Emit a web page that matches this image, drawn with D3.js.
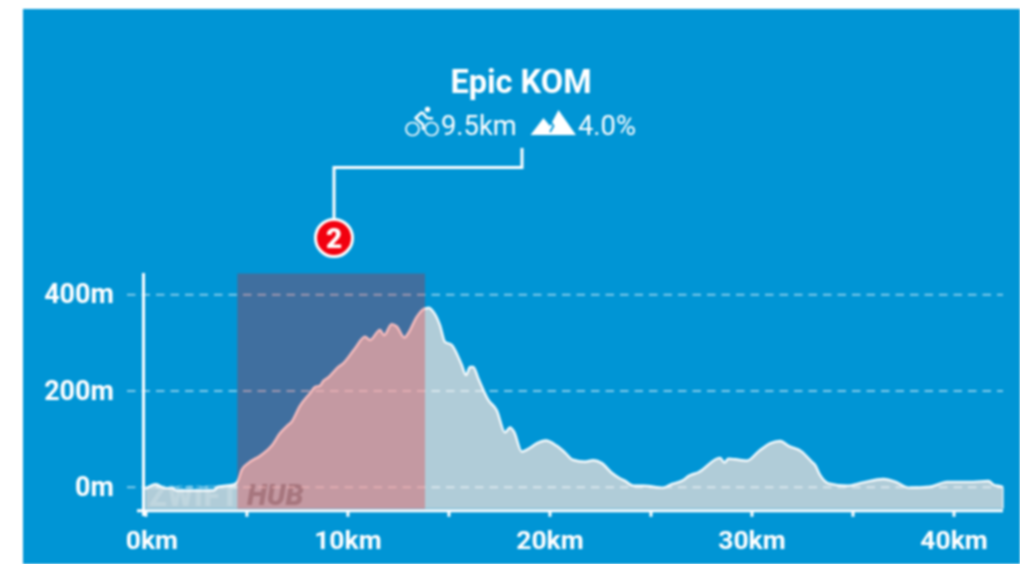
<!DOCTYPE html>
<html><head><meta charset="utf-8">
<script src="https://cdn.jsdelivr.net/npm/d3@7"></script>
<style>
html,body{margin:0;padding:0;background:#fff;overflow:hidden}
svg{display:block;filter:blur(.8px)}
text{font-family:Roboto,sans-serif;fill:#fff}
</style></head><body><div id="c"></div>
<script>
const distanceKm=[0,0.52,0.97,1.30,1.55,3.36,3.61,4.35,4.55,4.77,5.09,5.67,6.25,6.66,7.0,7.24,7.65,8.14,8.39,8.64,8.81,9.05,9.55,9.80,10.38,10.87,11.12,11.61,11.81,12.19,12.44,12.82,13.01,13.43,13.76,13.93,14.0,14.25,14.58,14.83,15.16,15.41,15.66,15.87,16.07,16.23,16.48,16.98,17.39,17.80,18.05,18.25,18.63,19.04,19.37,19.82,20.36,20.77,21.15,21.76,22.17,22.59,23.08,23.5,23.74,24.15,24.65,25.64,25.97,26.63,26.88,27.37,28.45,28.66,28.86,29.19,29.77,30.34,30.92,31.42,31.83,32.49,32.98,33.15,33.4,33.81,34.72,35.54,36.53,37.19,37.77,38.84,39.67,40.98,41.73,41.98,42.39,42.45];
const elevationM=[-5,5,-3,-3,-8,-8,0,4,10,35,49,64,85,111,126,135,168,194,207,210,220,227,249,257,288,312,305,326,315,338,333,310,319,353,369,371,372,364,336,301,295,277,253,232,249,249,225,180,159,113,123,114,73,81,90,96,85,71,56,52,55,49,29,17,12,2,2,-2,4,14,22,30,60,50,58,57,54,73,90,95,85,73,52,45,24,7,2,9,16,9,-2,0,10,10,12,4,0,-2];
const xTicks=[0,5,10,15,20,25,30,35,40];
const xLabels=["0km","","10km","","20km","","30km","","40km"];
const yTicks=[0,200,400];
const yLabels=["0m","200m","400m"];
const segmentKm=[4.55,13.84];
const title="Epic KOM", distLabel="9.5km", gradeLabel="4.0%", badge="2";

const W=1020,H=564;
const svg=d3.select("#c").append("svg").attr("width",W).attr("height",H);
svg.append("rect").attr("x",23).attr("y",9).attr("width",W-23+4).attr("height",H-9+4).attr("fill","#0095d5");

const x=d3.scaleLinear().domain([0,42.45]).range([145.4,1003]);
const y=d3.scaleLinear().domain([-50,400]).range([510.75,294.3]);
const floorM=-46, topPx=273.5;
const pts=distanceKm.map((d,i)=>[d,elevationM[i]]);

// area
svg.append("path").datum(pts).attr("fill","#b0ccd8")
  .attr("d",d3.area().curve(d3.curveMonotoneX).x(d=>x(d[0])).y0(y(floorM)).y1(d=>y(d[1])));

// watermark
svg.append("text").attr("x",149).attr("y",506).attr("font-size",29).attr("font-weight",900).attr("letter-spacing",1)
  .style("fill","#fff").style("fill-opacity",.2).text("ZWIFT");
svg.append("text").attr("x",247).attr("y",505).attr("font-size",29).attr("font-weight",900).attr("font-style","italic")
  .style("fill","#55606a").style("fill-opacity",.42).text("HUB");

// grid
svg.append("g").attr("transform","translate(127,0)")
  .call(d3.axisRight(y).tickValues(yTicks).tickSize(876).tickFormat(""))
  .call(g=>{g.select(".domain").remove();
    g.selectAll("line").attr("stroke","#fff").attr("stroke-opacity",.5).attr("stroke-width",2).attr("stroke-dasharray","8.5 6");});

// profile line
svg.append("path").datum(pts).attr("fill","none").attr("stroke","#fff").attr("stroke-opacity",.95)
  .attr("stroke-width",2.4).attr("stroke-linejoin","round")
  .attr("d",d3.line().curve(d3.curveMonotoneX).x(d=>x(d[0])).y(d=>y(d[1])));
svg.append("line").attr("x1",x(42.45)).attr("x2",x(42.45)).attr("y1",y(-2)).attr("y2",y(floorM)).attr("stroke","#fff").attr("stroke-opacity",.6).attr("stroke-width",2);

// segment band
svg.append("rect").attr("x",x(segmentKm[0])).attr("y",topPx)
  .attr("width",x(segmentKm[1])-x(segmentKm[0])).attr("height",y(floorM)-topPx)
  .attr("fill","#f00").attr("fill-opacity",.25);

// axes
const ax=svg.append("g").attr("transform",`translate(0,${y(-50)})`)
  .call(d3.axisBottom(x).tickValues(xTicks).tickSize(6).tickPadding(13).tickFormat((d,i)=>xLabels[i]));
ax.select(".domain").remove();
ax.selectAll("line").attr("stroke","#fff").attr("stroke-width",3);
ax.selectAll("text").attr("font-size",26.5).attr("font-weight",700).style("font-family","Roboto").style("fill","#fff");
ax.selectAll("text").filter(d=>d===0).attr("dx",6);
svg.append("line").attr("x1",137).attr("x2",1003).attr("y1",y(-50)).attr("y2",y(-50)).attr("stroke","#fff").attr("stroke-width",3);
svg.append("line").attr("x1",143.5).attr("x2",143.5).attr("y1",273).attr("y2",516).attr("stroke","#fff").attr("stroke-width",3);

const ay=svg.append("g").attr("transform","translate(114,0)")
  .call(d3.axisLeft(y).tickValues(yTicks).tickSize(0).tickPadding(0).tickFormat((d,i)=>yLabels[i]));
ay.select(".domain").remove();
ay.selectAll("text").attr("font-size",27).attr("font-weight",700).style("font-family","Roboto").style("fill","#fff");

// header
svg.append("text").attr("x",521).attr("y",93).attr("text-anchor","middle").attr("font-size",32.5).attr("font-weight",700).text(title);
svg.append("text").attr("x",441).attr("y",135).attr("font-size",27.3).attr("font-weight",400).text(distLabel);
svg.append("text").attr("x",578).attr("y",135).attr("font-size",27.3).attr("font-weight",400).text(gradeLabel);

// bike icon
const bike=svg.append("g").attr("fill","none").attr("stroke","#fff").attr("stroke-width",1.7);
bike.append("circle").attr("cx",412.5).attr("cy",129).attr("r",6.5);
bike.append("circle").attr("cx",431.5).attr("cy",129).attr("r",6.5);
bike.append("path").attr("stroke-width",2.6).attr("stroke-linejoin","round").attr("d","M422 112 L415.5 118 L423 124.5 L423 130 M422 112 L427 118 L433 118.5");
svg.append("circle").attr("cx",427.5).attr("cy",109.5).attr("r",2.7).attr("fill","#fff");

// mountain icon
svg.append("path").attr("fill","#fff").attr("d","M530.5 135 L543.5 118 L550 126 L558.5 110 L576 135 Z");
svg.append("path").attr("fill","none").attr("stroke","#0095d5").attr("stroke-width",1.8).attr("d","M549 119 L553.5 126 L550 132");

// connector
svg.append("path").attr("fill","none").attr("stroke","#fff").attr("stroke-width",3)
  .attr("d","M522 148 V167.5 H334 V220");
svg.append("circle").attr("cx",334).attr("cy",238).attr("r",18.5).attr("fill","#f2000f").attr("stroke","#fff").attr("stroke-width",3);
svg.append("text").attr("x",334).attr("y",248).attr("text-anchor","middle").attr("font-size",28).attr("font-weight",900).text(badge);
</script></body></html>
